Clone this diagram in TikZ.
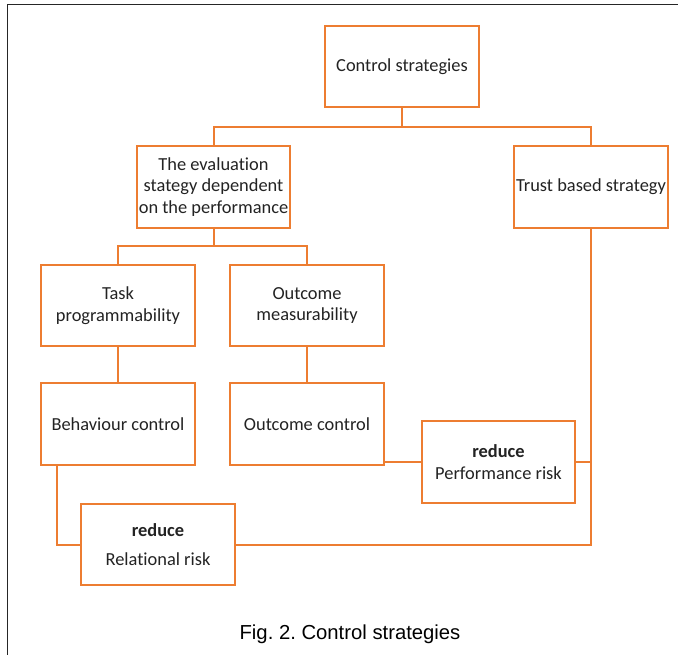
\documentclass[tikz,border=0pt]{standalone}
\usepackage{fontspec}
\setmainfont{Carlito}[Ligatures=NoCommon]
\newfontfamily\captionfont{Liberation Sans}
\usepackage{tikz}
\usetikzlibrary{positioning, calc}
\usepackage{xcolor}
\definecolor{boxorange}{RGB}{237,125,49}
\definecolor{textgray}{RGB}{35,35,35}
\frenchspacing

\begin{document}
\begin{tikzpicture}[x=0.75pt, y=-0.75pt,
    stratbox/.style={draw=boxorange, line width=1.5pt, fill=white, align=center,
      minimum width=115pt, minimum height=61pt, inner sep=1pt,
      text=textgray, font=\fontsize{13.8}{16.2}\selectfont},
    link/.style={draw=boxorange, line width=1.5pt}]
  \useasboundingbox (0,0) rectangle (678,655);
  % frame (cut at right and bottom)
  \draw[line width=1.4pt, black!85] (7.5,655) -- (7.5,4.5) -- (678,4.5);
  % boxes
  \node[stratbox] (cs) at (402,66.5) {Control strategies};
  \node[stratbox] (eval) at (213.5,187) {The evaluation\\stategy dependent\\on the performance};
  \node[stratbox] (trust) at (591,187) {Trust based strategy};
  \node[stratbox] (task) at (118,305.5) {Task\\programmability};
  \node[stratbox] (meas) at (307,305.5) {Outcome\\measurability};
  \node[stratbox] (bc) at (118,424) {Behaviour control};
  \node[stratbox] (oc) at (307,424) {Outcome control};
  \node[stratbox] (pr) at (498.5,462) {\textbf{reduce}\\Performance risk};
  \node[stratbox] (rr) at (158,544.5) {\textbf{reduce}\\[6pt]Relational risk};
  % connectors
  \coordinate (top) at (402,127);
  \coordinate (mid) at (213.5,246);
  \draw[link] (cs.south) -- (top);
  \draw[link] (eval.north) |- (top) -| (trust.north);
  \draw[link] (eval.south) -- (mid);
  \draw[link] (task.north) |- (mid) -| (meas.north);
  \draw[link] (task.south) -- (bc.north);
  \draw[link] (meas.south) -- (oc.north);
  \draw[link] (pr.west) -- (pr.west -| oc.east);
  \draw[link] (pr.east) -- (pr.east -| trust.south);
  \draw[link] (trust.south) |- (rr.east);
  \draw[link] (bc.south west) ++(17,0) |- (rr.west);
  % caption
  \node[font=\captionfont\fontsize{15.2}{18}\selectfont, black] (cap) at (350,634) {Fig. 2. Control strategies};
\end{tikzpicture}
\end{document}
